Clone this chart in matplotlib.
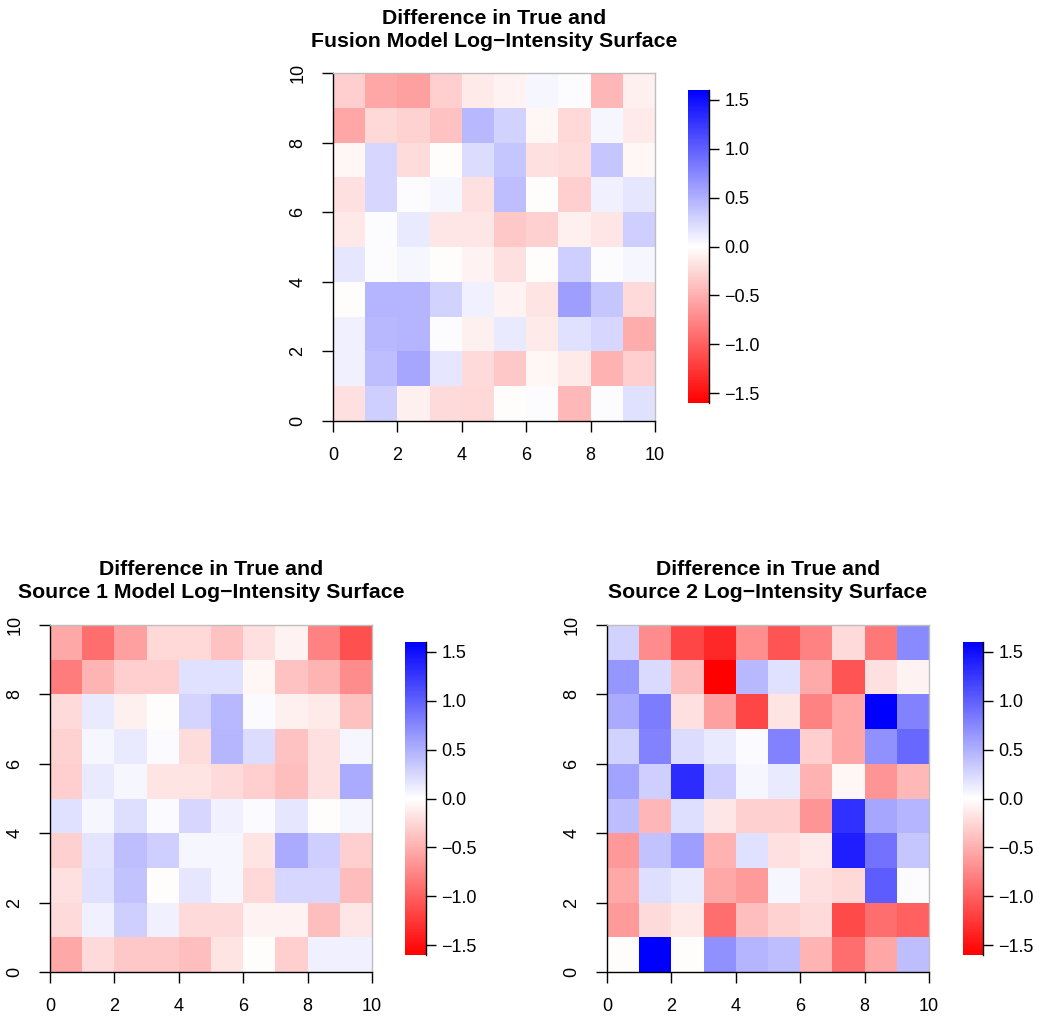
import numpy as np
import matplotlib
matplotlib.use("Agg")
import matplotlib.pyplot as plt
from matplotlib.colors import LinearSegmentedColormap, Normalize

plt.rcParams['font.family'] = ['Liberation Sans', 'DejaVu Sans']

# Data: rows listed from top (y = 9..10) to bottom (y = 0..1), columns x = 0..9
fusion_rows = [
    [-0.31, -0.56, -0.60, -0.31, -0.13, -0.08, 0.06, 0.02, -0.46, -0.09],
    [-0.56, -0.25, -0.28, -0.38, 0.44, 0.28, -0.06, -0.25, 0.06, -0.13],
    [-0.06, 0.26, -0.22, -0.02, 0.22, 0.35, -0.19, -0.22, 0.35, -0.06],
    [-0.20, 0.25, 0.02, 0.06, -0.20, 0.41, -0.02, -0.31, 0.09, 0.16],
    [-0.14, 0.02, 0.13, -0.16, -0.16, -0.35, -0.30, -0.09, -0.16, 0.31],
    [0.16, 0.02, 0.05, -0.02, -0.08, -0.19, -0.02, 0.30, 0.02, 0.05],
    [-0.02, 0.47, 0.47, 0.28, 0.09, -0.08, -0.17, 0.60, 0.35, -0.23],
    [0.09, 0.44, 0.47, 0.02, -0.10, 0.13, -0.13, 0.19, 0.25, -0.52],
    [0.09, 0.41, 0.56, 0.16, -0.23, -0.35, -0.06, -0.13, -0.48, -0.31],
    [-0.20, 0.30, -0.09, -0.23, -0.25, -0.02, 0.02, -0.44, 0.02, 0.19],
]
source1_rows = [
    [-0.55, -0.91, -0.60, -0.25, -0.25, -0.38, -0.20, -0.08, -0.78, -1.10],
    [-0.82, -0.47, -0.31, -0.31, 0.19, 0.19, -0.06, -0.38, -0.47, -0.72],
    [-0.23, 0.13, -0.09, -0.02, 0.27, 0.44, 0.03, -0.09, -0.13, -0.40],
    [-0.28, 0.06, 0.13, 0.03, -0.22, 0.46, 0.22, -0.38, -0.19, 0.06],
    [-0.31, 0.13, 0.06, -0.17, -0.17, -0.23, -0.31, -0.41, -0.19, 0.53],
    [0.19, 0.06, 0.20, 0.03, 0.25, 0.09, 0.03, 0.16, -0.02, 0.06],
    [-0.30, 0.17, 0.40, 0.31, 0.06, 0.06, -0.17, 0.53, 0.31, -0.31],
    [-0.19, 0.19, 0.38, -0.02, 0.16, 0.06, -0.25, 0.25, 0.25, -0.42],
    [-0.23, 0.09, 0.31, 0.09, -0.23, -0.23, -0.08, -0.08, -0.41, -0.16],
    [-0.55, -0.23, -0.35, -0.35, -0.41, -0.17, -0.02, -0.31, 0.09, 0.09],
]
source2_rows = [
    [0.28, -0.72, -1.16, -1.35, -0.71, -1.07, -0.78, -0.23, -0.85, 0.73],
    [0.66, 0.23, -0.42, -1.60, 0.44, 0.19, -0.53, -1.07, -0.19, -0.08],
    [0.53, 0.82, -0.19, -0.60, -1.16, -0.17, -0.78, -0.56, 1.60, 0.78],
    [0.28, 0.78, 0.22, 0.13, 0.03, 0.78, -0.31, -0.56, 0.69, 0.94],
    [0.58, 0.30, 1.32, 0.30, 0.06, 0.13, -0.48, -0.06, -0.67, -0.44],
    [0.41, -0.46, 0.20, -0.16, -0.30, -0.30, -0.67, 1.29, 0.56, 0.47],
    [-0.65, 0.38, 0.61, -0.48, 0.19, -0.19, -0.14, 1.41, 0.88, 0.35],
    [-0.55, 0.20, 0.13, -0.55, -0.63, 0.06, -0.19, -0.25, 1.02, 0.02],
    [-0.63, -0.23, -0.14, -0.91, -0.41, -0.28, -0.23, -1.13, -0.91, -1.00],
    [-0.02, 1.60, -0.02, 0.69, 0.47, 0.41, -0.47, -0.91, -0.56, 0.40],
]
titles = [
    "Difference in True and\nFusion Model Log\u2212Intensity Surface",
    "Difference in True and\nSource 1 Model Log\u2212Intensity Surface",
    "Difference in True and\nSource 2 Log\u2212Intensity Surface",
]
axis_ticks = [0, 2, 4, 6, 8, 10]
cbar_ticks = [-1.5, -1.0, -0.5, 0.0, 0.5, 1.0, 1.5]
zlim = 1.6

W, H = 1045, 1016
fig = plt.figure(figsize=(W / 100, H / 100), dpi=100)

cmap = LinearSegmentedColormap.from_list("rwb", ["#FF0000", "#FFFFFF", "#0000FF"], N=256)
norm = Normalize(vmin=-zlim, vmax=zlim)

def px_axes(x0, y0, x1, y1):
    return fig.add_axes([x0 / W, 1 - y1 / H, (x1 - x0) / W, (y1 - y0) / H])

panels = [
    # heatmap box (px), colorbar box (px), title center y (px)
    ((333, 73, 655, 421), (688, 90, 709, 403), 30),
    ((50, 625, 372, 972), (405, 642, 426, 955), 581),
    ((607, 625, 929, 972), (963, 642, 983, 955), 581),
]
datasets = [fusion_rows, source1_rows, source2_rows]

for (box, cbox, ty), rows, title in zip(panels, datasets, titles):
    ax = px_axes(*box)
    Z = np.flipud(np.array(rows))
    edges = np.arange(0, 11)
    mesh = ax.pcolormesh(edges, edges, Z, cmap=cmap, norm=norm, shading='flat')
    ax.set_xlim(0, 10)
    ax.set_ylim(0, 10)
    ax.set_xticks(axis_ticks)
    ax.set_yticks(axis_ticks)
    ax.tick_params(axis='both', length=8, width=1, labelsize=13, colors='black')
    ax.tick_params(axis='x', pad=11)
    ax.tick_params(axis='y', pad=11)
    for lab in ax.get_yticklabels():
        lab.set_rotation(90)
        lab.set_va('center')
    for s in ['top', 'right']:
        ax.spines[s].set_color('#BEBEBE')
        ax.spines[s].set_linewidth(1)
    for s in ['bottom', 'left']:
        ax.spines[s].set_color('black')
        ax.spines[s].set_linewidth(1)
    cx = (box[0] + box[2]) / 2
    fig.text(cx / W, 1 - ty / H, title, ha='center', va='center',
             fontsize=15.3, fontweight='bold', linespacing=1.32)

    cax = px_axes(*cbox)
    cb = fig.colorbar(mesh, cax=cax, ticks=cbar_ticks)
    cb.outline.set_visible(False)
    cax.plot([1, 1], [0, 1], transform=cax.transAxes, color='black', lw=1, clip_on=False)
    cax.tick_params(axis='y', length=7, width=1, labelsize=13, pad=4, colors='black')
    cb.ax.set_yticklabels([f"{t:.1f}".replace('-', '\u2212') for t in cbar_ticks])

fig.savefig("out.png", dpi=100)
